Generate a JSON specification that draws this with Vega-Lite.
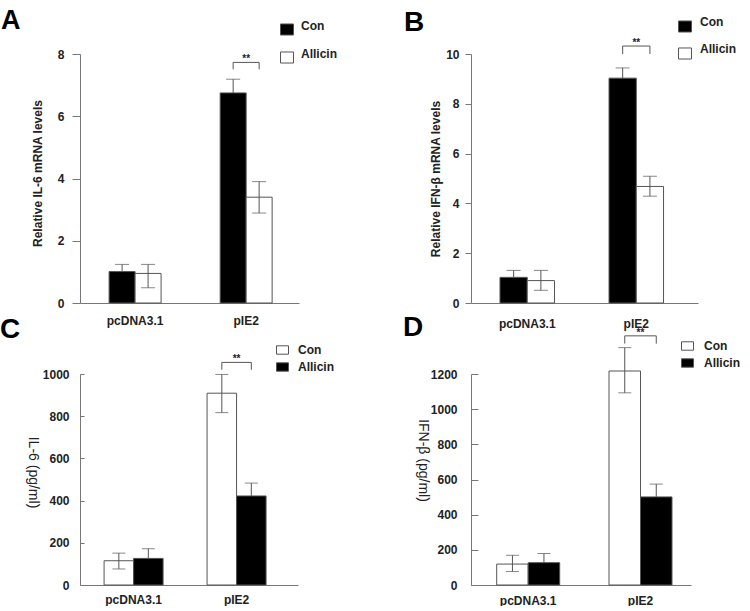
{
  "$schema": "https://vega.github.io/schema/vega-lite/v6.json",
  "background": "white",
  "padding": {"left": 0, "top": 6, "right": 0, "bottom": 0},
  "columns": 2,
  "spacing": {"row": 71, "column": 172},
  "bounds": "flush",
  "resolve": {"scale": {"color": "independent", "fill": "independent", "x": "independent", "y": "independent", "xOffset": "independent"}, "legend": {"color": "independent", "fill": "independent"}},
  "datasets": {
    "a": [
      {"group": "pcDNA3.1", "series": "Con", "value": 1.01, "lo": 1.01, "hi": 1.24},
      {"group": "pcDNA3.1", "series": "Allicin", "value": 0.95, "lo": 0.49, "hi": 1.24},
      {"group": "pIE2", "series": "Con", "value": 6.75, "lo": 6.75, "hi": 7.19},
      {"group": "pIE2", "series": "Allicin", "value": 3.4, "lo": 2.89, "hi": 3.9}
    ],
    "asig": [{"group": "pIE2", "top": 7.73, "bottom": 7.51, "label": "**"}],
    "b": [
      {"group": "pcDNA3.1", "series": "Con", "value": 1.03, "lo": 1.03, "hi": 1.31},
      {"group": "pcDNA3.1", "series": "Allicin", "value": 0.9, "lo": 0.51, "hi": 1.31},
      {"group": "pIE2", "series": "Con", "value": 9.03, "lo": 9.03, "hi": 9.44},
      {"group": "pIE2", "series": "Allicin", "value": 4.68, "lo": 4.29, "hi": 5.09}
    ],
    "bsig": [{"group": "pIE2", "top": 10.32, "bottom": 10.0, "label": "**"}],
    "c": [
      {"group": "pcDNA3.1", "series": "Con", "value": 115, "lo": 76, "hi": 151},
      {"group": "pcDNA3.1", "series": "Allicin", "value": 126, "lo": 126, "hi": 172},
      {"group": "pIE2", "series": "Con", "value": 909, "lo": 817, "hi": 998},
      {"group": "pIE2", "series": "Allicin", "value": 422, "lo": 422, "hi": 483}
    ],
    "csig": [{"group": "pIE2", "top": 1055, "bottom": 1020, "label": "**"}],
    "d": [
      {"group": "pcDNA3.1", "series": "Con", "value": 119, "lo": 77, "hi": 169},
      {"group": "pcDNA3.1", "series": "Allicin", "value": 127, "lo": 127, "hi": 179},
      {"group": "pIE2", "series": "Con", "value": 1217, "lo": 1093, "hi": 1350},
      {"group": "pIE2", "series": "Allicin", "value": 501, "lo": 501, "hi": 574}
    ],
    "dsig": [{"group": "pIE2", "top": 1417, "bottom": 1373, "label": "**"}]
  },
  "concat": [
    {
      "width": 219, "height": 249,
      "title": {"text": "A", "anchor": "start", "frame": "group", "fontSize": 27, "fontWeight": "bold", "color": "black", "dx": -79, "dy": 25, "baseline": "alphabetic", "offset": -8},
      "encoding": {"x": {"field": "group", "type": "nominal", "sort": ["pcDNA3.1", "pIE2"], "scale": {"paddingInner": 0.532, "paddingOuter": 0.252, "align": 0.52}, "axis": {"title": null, "labelAngle": 0, "ticks": false, "labelPadding": 12}}},
      "layer": [
        {"data": {"name": "a"}, "mark": {"type": "bar", "stroke": "#555", "strokeWidth": 1},
         "encoding": {"xOffset": {"field": "series", "type": "nominal", "scale": {"domain": ["Con", "Allicin"]}},
           "y": {"field": "value", "type": "quantitative", "scale": {"domain": [0, 8]}, "axis": {"values": [0, 2, 4, 6, 8], "tickCount": 20, "format": "d", "labelOverlap": false, "title": "Relative IL-6 mRNA levels", "titleFontWeight": "bold", "titleY": 119, "tickSize": 8, "labelPadding": 8, "titlePadding": 13}},
           "fill": {"field": "series", "type": "nominal", "scale": {"domain": ["Con", "Allicin"], "range": ["black", "white"]},
             "legend": {"title": null, "orient": "none", "legendX": 200, "legendY": -31.5, "symbolType": "M-1,-0.85H1V0.85H-1Z", "symbolSize": 169, "symbolStrokeColor": "#555", "symbolStrokeWidth": 1, "symbolOpacity": 1, "rowPadding": 10, "labelOffset": 7, "labelFontSize": 12, "labelFontWeight": "bold", "labelColor": "#222", "padding": 0, "encode": {"labels": {"update": {"dy": {"value": -4}}}}}}}},
        {"data": {"name": "a"}, "mark": {"type": "rule", "color": "#555"},
         "encoding": {"xOffset": {"field": "series", "type": "nominal", "scale": {"domain": ["Con", "Allicin"]}}, "y": {"field": "lo", "type": "quantitative"}, "y2": {"field": "hi"}}},
        {"data": {"name": "a"}, "mark": {"type": "tick", "color": "#555", "thickness": 1, "size": 14},
         "encoding": {"xOffset": {"field": "series", "type": "nominal", "scale": {"domain": ["Con", "Allicin"]}}, "y": {"field": "hi", "type": "quantitative"}}},
        {"data": {"name": "a"}, "transform": [{"filter": "datum.lo < datum.value"}], "mark": {"type": "tick", "color": "#555", "thickness": 1, "size": 14},
         "encoding": {"xOffset": {"field": "series", "type": "nominal", "scale": {"domain": ["Con", "Allicin"]}}, "y": {"field": "lo", "type": "quantitative"}}},
        {"data": {"name": "asig"}, "mark": {"type": "rule", "color": "#555"},
         "encoding": {"x": {"field": "group", "type": "nominal", "bandPosition": 0.25}, "x2": {"field": "group", "bandPosition": 0.75}, "y": {"field": "top", "type": "quantitative"}}},
        {"data": {"name": "asig"}, "mark": {"type": "rule", "color": "#555"},
         "encoding": {"x": {"field": "group", "type": "nominal", "bandPosition": 0.25}, "y": {"field": "top", "type": "quantitative"}, "y2": {"field": "bottom"}}},
        {"data": {"name": "asig"}, "mark": {"type": "rule", "color": "#555"},
         "encoding": {"x": {"field": "group", "type": "nominal", "bandPosition": 0.75}, "y": {"field": "top", "type": "quantitative"}, "y2": {"field": "bottom"}}},
        {"data": {"name": "asig"}, "mark": {"type": "text", "fontSize": 10, "fontWeight": "bold", "color": "#222", "baseline": "alphabetic"},
         "encoding": {"y": {"field": "top", "type": "quantitative"}, "text": {"field": "label"}}}
      ]
    },
    {
      "width": 227, "height": 249,
      "title": {"text": "B", "anchor": "start", "frame": "group", "fontSize": 28, "fontWeight": "bold", "color": "black", "dx": -67, "dy": 28, "baseline": "alphabetic", "offset": -11},
      "encoding": {"x": {"field": "group", "type": "nominal", "sort": ["pcDNA3.1", "pIE2"], "scale": {"paddingInner": 0.5, "paddingOuter": 0.291, "align": 0.457}, "axis": {"title": null, "labelAngle": 0, "ticks": false, "labelPadding": 15}}},
      "layer": [
        {"data": {"name": "b"}, "mark": {"type": "bar", "stroke": "#555", "strokeWidth": 1},
         "encoding": {"xOffset": {"field": "series", "type": "nominal", "scale": {"domain": ["Con", "Allicin"]}},
           "y": {"field": "value", "type": "quantitative", "scale": {"domain": [0, 10]}, "axis": {"values": [0, 2, 4, 6, 8, 10], "tickCount": 20, "format": "d", "labelOverlap": false, "title": "Relative IFN-β mRNA levels", "titleFontWeight": "bold", "tickSize": 6, "labelPadding": 6, "titlePadding": 3}},
           "fill": {"field": "series", "type": "nominal", "scale": {"domain": ["Con", "Allicin"], "range": ["black", "white"]},
             "legend": {"title": null, "orient": "none", "legendX": 207, "legendY": -34.5, "symbolType": "M-1,-0.85H1V0.85H-1Z", "symbolSize": 169, "symbolStrokeColor": "#555", "symbolStrokeWidth": 1, "symbolOpacity": 1, "rowPadding": 8, "labelOffset": 8, "labelFontSize": 12, "labelFontWeight": "bold", "labelColor": "#222", "padding": 0, "encode": {"labels": {"update": {"dy": {"value": -5}}}}}}}},
        {"data": {"name": "b"}, "mark": {"type": "rule", "color": "#555"},
         "encoding": {"xOffset": {"field": "series", "type": "nominal", "scale": {"domain": ["Con", "Allicin"]}}, "y": {"field": "lo", "type": "quantitative"}, "y2": {"field": "hi"}}},
        {"data": {"name": "b"}, "mark": {"type": "tick", "color": "#555", "thickness": 1, "size": 14},
         "encoding": {"xOffset": {"field": "series", "type": "nominal", "scale": {"domain": ["Con", "Allicin"]}}, "y": {"field": "hi", "type": "quantitative"}}},
        {"data": {"name": "b"}, "transform": [{"filter": "datum.lo < datum.value"}], "mark": {"type": "tick", "color": "#555", "thickness": 1, "size": 14},
         "encoding": {"xOffset": {"field": "series", "type": "nominal", "scale": {"domain": ["Con", "Allicin"]}}, "y": {"field": "lo", "type": "quantitative"}}},
        {"data": {"name": "bsig"}, "mark": {"type": "rule", "color": "#555"},
         "encoding": {"x": {"field": "group", "type": "nominal", "bandPosition": 0.25}, "x2": {"field": "group", "bandPosition": 0.75}, "y": {"field": "top", "type": "quantitative"}}},
        {"data": {"name": "bsig"}, "mark": {"type": "rule", "color": "#555"},
         "encoding": {"x": {"field": "group", "type": "nominal", "bandPosition": 0.25}, "y": {"field": "top", "type": "quantitative"}, "y2": {"field": "bottom"}}},
        {"data": {"name": "bsig"}, "mark": {"type": "rule", "color": "#555"},
         "encoding": {"x": {"field": "group", "type": "nominal", "bandPosition": 0.75}, "y": {"field": "top", "type": "quantitative"}, "y2": {"field": "bottom"}}},
        {"data": {"name": "bsig"}, "mark": {"type": "text", "fontSize": 10, "fontWeight": "bold", "color": "#222", "baseline": "alphabetic"},
         "encoding": {"y": {"field": "top", "type": "quantitative"}, "text": {"field": "label"}}}
      ]
    },
    {
      "width": 218, "height": 211,
      "title": {"text": "C", "anchor": "start", "frame": "group", "fontSize": 28, "fontWeight": "bold", "color": "black", "dx": -80, "dy": 28, "baseline": "alphabetic", "offset": 6},
      "encoding": {"x": {"field": "group", "type": "nominal", "sort": ["pcDNA3.1", "pIE2"], "scale": {"paddingInner": 0.427, "paddingOuter": 0.272, "align": 0.43}, "axis": {"title": null, "labelAngle": 0, "ticks": false, "labelPadding": 9}}},
      "layer": [
        {"data": {"name": "c"}, "mark": {"type": "bar", "stroke": "#555", "strokeWidth": 1},
         "encoding": {"xOffset": {"field": "series", "type": "nominal", "scale": {"domain": ["Con", "Allicin"]}},
           "y": {"field": "value", "type": "quantitative", "scale": {"domain": [0, 1000]}, "axis": {"values": [0, 200, 400, 600, 800, 1000], "tickCount": 20, "format": "d", "labelOverlap": false, "title": "IL-6 (pg/ml)", "titleFontWeight": "normal", "titleFontSize": 14, "titleAngle": 90, "titleBaseline": "top", "titleY": 98, "tickSize": -4, "labelPadding": 15, "titlePadding": 3}},
           "fill": {"field": "series", "type": "nominal", "scale": {"domain": ["Con", "Allicin"], "range": ["white", "black"]},
             "legend": {"title": null, "orient": "none", "legendX": 196, "legendY": -30.5, "symbolType": "M-1,-0.7H1V0.7H-1Z", "symbolSize": 144, "symbolStrokeColor": "#555", "symbolStrokeWidth": 1, "symbolOpacity": 1, "rowPadding": 4, "labelOffset": 9, "labelFontSize": 12, "labelFontWeight": "bold", "labelColor": "#222", "padding": 0}}}},
        {"data": {"name": "c"}, "mark": {"type": "rule", "color": "#555"},
         "encoding": {"xOffset": {"field": "series", "type": "nominal", "scale": {"domain": ["Con", "Allicin"]}}, "y": {"field": "lo", "type": "quantitative"}, "y2": {"field": "hi"}}},
        {"data": {"name": "c"}, "mark": {"type": "tick", "color": "#555", "thickness": 1, "size": 13},
         "encoding": {"xOffset": {"field": "series", "type": "nominal", "scale": {"domain": ["Con", "Allicin"]}}, "y": {"field": "hi", "type": "quantitative"}}},
        {"data": {"name": "c"}, "transform": [{"filter": "datum.lo < datum.value"}], "mark": {"type": "tick", "color": "#555", "thickness": 1, "size": 13},
         "encoding": {"xOffset": {"field": "series", "type": "nominal", "scale": {"domain": ["Con", "Allicin"]}}, "y": {"field": "lo", "type": "quantitative"}}},
        {"data": {"name": "csig"}, "mark": {"type": "rule", "color": "#555"},
         "encoding": {"x": {"field": "group", "type": "nominal", "bandPosition": 0.25}, "x2": {"field": "group", "bandPosition": 0.75}, "y": {"field": "top", "type": "quantitative"}}},
        {"data": {"name": "csig"}, "mark": {"type": "rule", "color": "#555"},
         "encoding": {"x": {"field": "group", "type": "nominal", "bandPosition": 0.25}, "y": {"field": "top", "type": "quantitative"}, "y2": {"field": "bottom"}}},
        {"data": {"name": "csig"}, "mark": {"type": "rule", "color": "#555"},
         "encoding": {"x": {"field": "group", "type": "nominal", "bandPosition": 0.75}, "y": {"field": "top", "type": "quantitative"}, "y2": {"field": "bottom"}}},
        {"data": {"name": "csig"}, "mark": {"type": "text", "fontSize": 10, "fontWeight": "bold", "color": "#222", "baseline": "alphabetic"},
         "encoding": {"y": {"field": "top", "type": "quantitative"}, "text": {"field": "label"}}}
      ]
    },
    {
      "width": 220, "height": 211,
      "title": {"text": "D", "anchor": "start", "frame": "group", "fontSize": 28, "fontWeight": "bold", "color": "black", "dx": -68, "dy": 40, "baseline": "alphabetic", "offset": 4},
      "encoding": {"x": {"field": "group", "type": "nominal", "sort": ["pcDNA3.1", "pIE2"], "scale": {"paddingInner": 0.439, "paddingOuter": 0.199, "align": 0.575}, "axis": {"title": null, "labelAngle": 0, "ticks": false, "labelPadding": 10}}},
      "layer": [
        {"data": {"name": "d"}, "mark": {"type": "bar", "stroke": "#555", "strokeWidth": 1},
         "encoding": {"xOffset": {"field": "series", "type": "nominal", "scale": {"domain": ["Con", "Allicin"]}},
           "y": {"field": "value", "type": "quantitative", "scale": {"domain": [0, 1200]}, "axis": {"values": [0, 200, 400, 600, 800, 1000, 1200], "tickCount": 20, "format": "d", "labelOverlap": false, "title": "IFN-β (pg/ml)", "titleFontWeight": "normal", "titleFontSize": 14, "titleAngle": 90, "titleBaseline": "top", "titleY": 86, "tickSize": -7, "labelPadding": 21, "titlePadding": 1}},
           "fill": {"field": "series", "type": "nominal", "scale": {"domain": ["Con", "Allicin"], "range": ["white", "black"]},
             "legend": {"title": null, "orient": "none", "legendX": 210, "legendY": -34.5, "symbolType": "M-1,-0.7H1V0.7H-1Z", "symbolSize": 144, "symbolStrokeColor": "#555", "symbolStrokeWidth": 1, "symbolOpacity": 1, "rowPadding": 4, "labelOffset": 10, "labelFontSize": 12, "labelFontWeight": "bold", "labelColor": "#222", "padding": 0}}}},
        {"data": {"name": "d"}, "mark": {"type": "rule", "color": "#555"},
         "encoding": {"xOffset": {"field": "series", "type": "nominal", "scale": {"domain": ["Con", "Allicin"]}}, "y": {"field": "lo", "type": "quantitative"}, "y2": {"field": "hi"}}},
        {"data": {"name": "d"}, "mark": {"type": "tick", "color": "#555", "thickness": 1, "size": 13},
         "encoding": {"xOffset": {"field": "series", "type": "nominal", "scale": {"domain": ["Con", "Allicin"]}}, "y": {"field": "hi", "type": "quantitative"}}},
        {"data": {"name": "d"}, "transform": [{"filter": "datum.lo < datum.value"}], "mark": {"type": "tick", "color": "#555", "thickness": 1, "size": 13},
         "encoding": {"xOffset": {"field": "series", "type": "nominal", "scale": {"domain": ["Con", "Allicin"]}}, "y": {"field": "lo", "type": "quantitative"}}},
        {"data": {"name": "dsig"}, "mark": {"type": "rule", "color": "#555"},
         "encoding": {"x": {"field": "group", "type": "nominal", "bandPosition": 0.25}, "x2": {"field": "group", "bandPosition": 0.75}, "y": {"field": "top", "type": "quantitative"}}},
        {"data": {"name": "dsig"}, "mark": {"type": "rule", "color": "#555"},
         "encoding": {"x": {"field": "group", "type": "nominal", "bandPosition": 0.25}, "y": {"field": "top", "type": "quantitative"}, "y2": {"field": "bottom"}}},
        {"data": {"name": "dsig"}, "mark": {"type": "rule", "color": "#555"},
         "encoding": {"x": {"field": "group", "type": "nominal", "bandPosition": 0.75}, "y": {"field": "top", "type": "quantitative"}, "y2": {"field": "bottom"}}},
        {"data": {"name": "dsig"}, "mark": {"type": "text", "fontSize": 10, "fontWeight": "bold", "color": "#222", "baseline": "alphabetic"},
         "encoding": {"y": {"field": "top", "type": "quantitative"}, "text": {"field": "label"}}}
      ]
    }
  ],
  "config": {
    "view": {"stroke": null},
    "font": "Liberation Sans",
    "axis": {"grid": false, "domainColor": "#777", "tickColor": "#777", "labelFontWeight": "bold", "labelFontSize": 12, "labelColor": "#222", "titleColor": "#222", "titleFontSize": 12}
  }
}
